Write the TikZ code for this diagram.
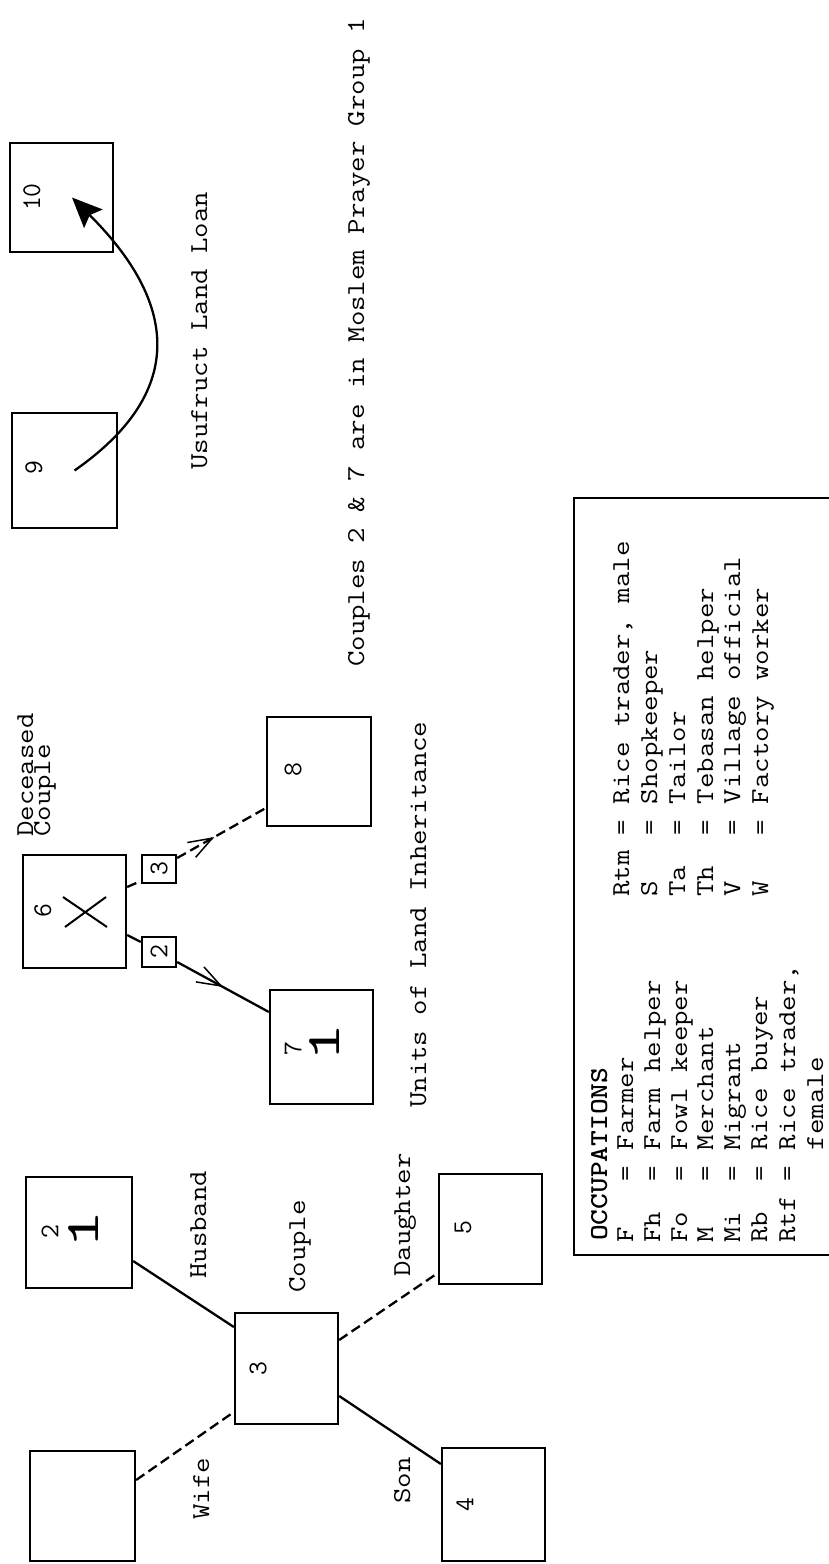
\documentclass[tikz,border=0pt]{standalone}
\usepackage{fontspec}
\usepackage{graphicx}
\usetikzlibrary{arrows.meta,decorations.markings}
\newcommand\sqz[1]{\scalebox{1}[0.86]{#1}}
\tikzset{
  box/.style={draw, line width=2.3pt, rectangle, inner sep=0pt},
  txt/.style={rotate=90, inner sep=0pt, anchor=base west, font=\ttfamily\fontsize{30}{30}\selectfont},
  dig/.style={rotate=90, inner sep=0pt, font=\ttfamily\fontsize{27}{27}\selectfont},
  bigone/.style={rotate=90, inner sep=0pt, font=\ttfamily\fontsize{48}{48}\selectfont},
  con/.style={line width=2.3pt},
  dsh/.style={line width=2.3pt, dash pattern=on 10pt off 5pt},
  midbarb/.style={postaction={decorate}, decoration={markings, mark=at position #1 with {\arrow{Straight Barb[length=24pt,width=17pt,line width=1.5pt]}}}},
}
\begin{document}
\begin{tikzpicture}[x=1pt,y=-1pt]
\useasboundingbox (0,0) rectangle (829,1564);
\clip (0,0) rectangle (829,1564);

% ---- couple group ----
\node[box, minimum width=105pt, minimum height=110pt] (wife) at (82.5,1506) {};
\node[box, minimum width=106pt, minimum height=111pt] (b2) at (79,1232.5) {};
\node[box, minimum width=103pt, minimum height=111pt] (b3) at (286.5,1368.5) {};
\node[box, minimum width=103pt, minimum height=110pt] (b5) at (490.5,1229) {};
\node[box, minimum width=103pt, minimum height=113pt] (b4) at (493.5,1504.5) {};

\node[dig] (n2) at (50,1232) {2};
\node[bigone] (u2) at (84,1230) {\scalebox{1.6}[1]{1}};
\node[dig] (n3) at (258,1369) {3};
\node[dig] (n5) at (463,1228) {5};
\node[dig] (n4) at (465,1505) {4};

\draw[con] ([yshift=-28.5pt]b2.east) -- ([yshift=41.5pt]b3.west);
\draw[dsh] ([yshift=26pt]wife.east) -- ([yshift=-43.5pt]b3.west);
\draw[con] ([yshift=-27.5pt]b3.east) -- ([yshift=40.5pt]b4.west);
\draw[dsh] ([yshift=28.5pt]b3.east) -- ([yshift=-44pt]b5.west);

\node[txt] (lhusband) at (206,1279) {\sqz{Husband}};
\node[txt] (lcouple) at (305,1293) {\sqz{Couple}};
\node[txt] (ldaughter) at (410,1277) {\sqz{Daughter}};
\node[txt] (lwife) at (209,1520) {\sqz{Wife}};
\node[txt] (lson) at (410,1504) {\sqz{Son}};

% ---- inheritance group ----
\node[box, minimum width=103pt, minimum height=113pt] (b6) at (74.5,911.5) {};
\node[box, minimum width=34pt, minimum height=28pt] (s3) at (159,869) {};
\node[box, minimum width=34pt, minimum height=30pt] (s2) at (159,952) {};
\node[box, minimum width=103pt, minimum height=114pt] (b7) at (321.5,1047) {};
\node[box, minimum width=104pt, minimum height=109pt] (b8) at (319,771.5) {};

\node[dig] (n6) at (43,911) {6};
\draw[line width=2pt] (63,897) -- (107,927) (65,927) -- (106,897);
\node[dig] (ns3) at (s3.center) {3};
\node[dig] (ns2) at (s2.center) {2};
\node[dig] (n7) at (293,1049) {7};
\node[bigone] (u7) at (325,1043) {\scalebox{1.6}[1]{1}};
\node[dig] (n8) at (293,770) {8};

\draw[con] ([yshift=-23.5pt]b6.east) -- ([yshift=10pt]s2.west);
\draw[con, midbarb=0.5] ([yshift=-10pt]s2.east) -- ([yshift=35pt]b7.west);
\draw[dsh] ([yshift=24.5pt]b6.east) -- ([yshift=-12pt]s3.west);
\draw[dsh, midbarb=0.42] ([yshift=11pt]s3.east) -- ([yshift=-36.5pt]b8.west);

\node[txt] (ldec1) at (33,837) {\sqz{Deceased}};
\node[txt] (ldec2) at (50,837) {\sqz{Couple}};
\node[txt] (lunits) at (426,1108) {\sqz{Units of Land Inheritance}};

% ---- usufruct group ----
\node[box, minimum width=103pt, minimum height=109pt] (b10) at (61.5,197.5) {};
\node[box, minimum width=105pt, minimum height=115pt] (b9) at (64.5,470.5) {};
\node[dig] (n10) at (32,197) {10};
\node[dig] (n9) at (34,468) {9};
\draw[con, -{Stealth[length=30pt,width=26pt,inset=5pt]}] ([xshift=10pt]b9.center) .. controls (190,390) and (175,300) .. ([xshift=10.5pt]b10.center);
\node[txt] (lusu) at (207,470) {\sqz{Usufruct Land Loan}};
\node[txt] (lcouples) at (364,667) {\sqz{Couples 2 \& 7 are in Moslem Prayer Group 1}};

% ---- legend ----
\node[box, minimum width=266pt, minimum height=757pt] (legend) at (707,876.5) {};
\node[txt, font=\ttfamily\bfseries\fontsize{30}{30}\selectfont] (occ) at (607,1241) {\sqz{OCCUPATIONS}};
\node[txt] (r1) at (633,1243) {\sqz{F~~~= Farmer}};
\node[txt] (r2) at (660,1243) {\sqz{Fh~~= Farm helper}};
\node[txt] (r3) at (687,1243) {\sqz{Fo~~= Fowl keeper}};
\node[txt] (r4) at (713,1243) {\sqz{M~~~= Merchant}};
\node[txt] (r5) at (740,1243) {\sqz{Mi~~= Migrant}};
\node[txt] (r6) at (767,1243) {\sqz{Rb~~= Rice buyer}};
\node[txt] (r7) at (795,1243) {\sqz{Rtf = Rice trader,}};
\node[txt] (r8) at (823,1243) {\sqz{~~~~~~female}};
\node[txt] (q1) at (629,897) {\sqz{Rtm = Rice trader, male}};
\node[txt] (q2) at (657,897) {\sqz{S~~~= Shopkeeper}};
\node[txt] (q3) at (685,897) {\sqz{Ta~~= Tailor}};
\node[txt] (q4) at (713,897) {\sqz{Th~~= Tebasan helper}};
\node[txt] (q5) at (740,897) {\sqz{V~~~= Village official}};
\node[txt] (q6) at (768,897) {\sqz{W~~~= Factory worker}};
\end{tikzpicture}
\end{document}
